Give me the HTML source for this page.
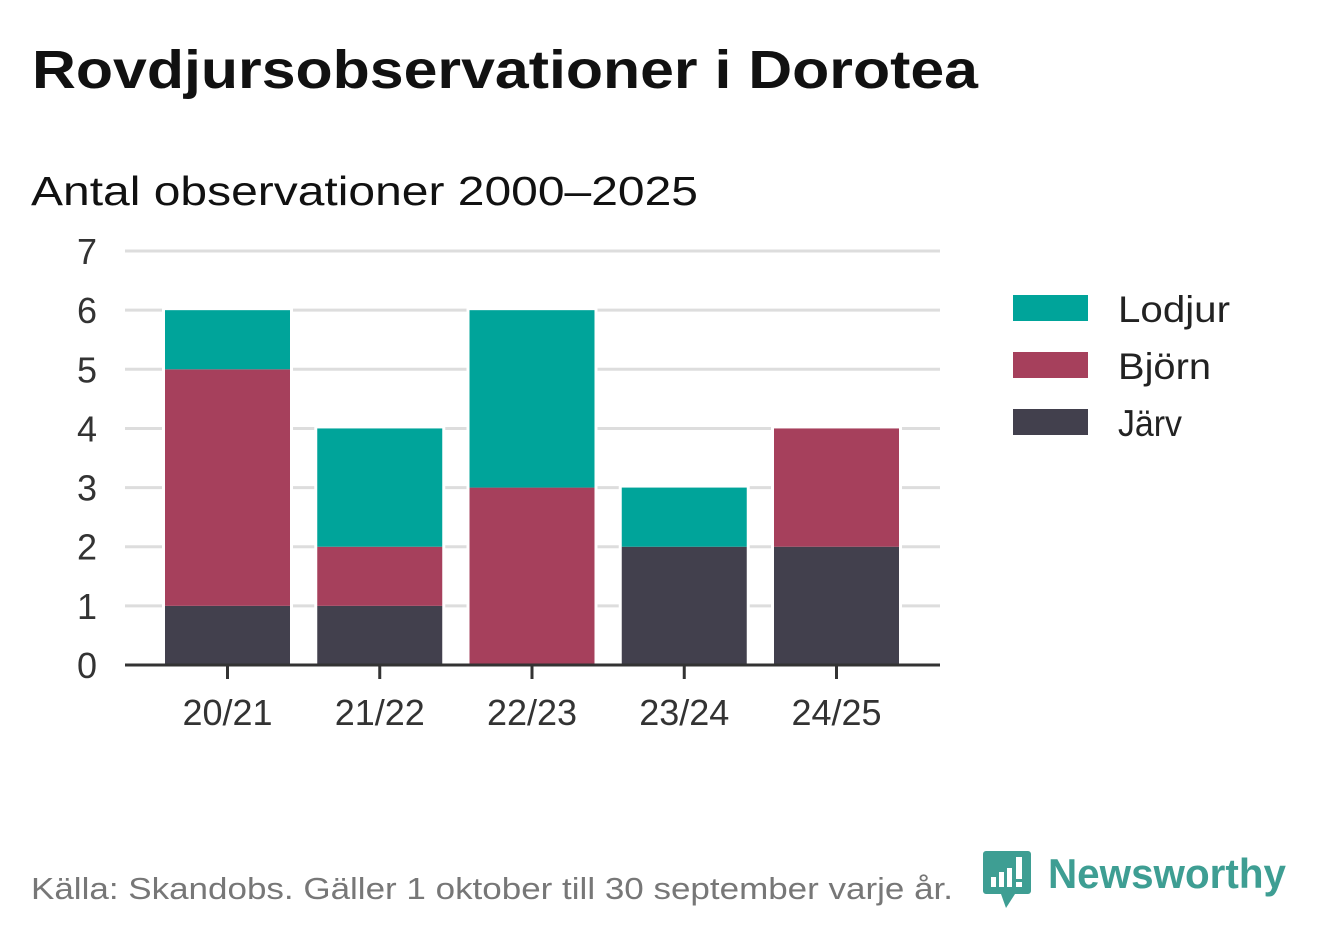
<!DOCTYPE html>
<html><head><meta charset="utf-8"><style>
body{margin:0;background:#fff;}
svg text{font-family:"Liberation Sans",sans-serif;}
</style></head><body>
<svg id="chart" width="1322" height="939" viewBox="0 0 1322 939" xmlns="http://www.w3.org/2000/svg">
<text x="32" y="88" font-size="54" font-weight="bold" fill="#111" textLength="946" lengthAdjust="spacingAndGlyphs">Rovdjursobservationer i Dorotea</text>
<text x="31" y="205" font-size="41" fill="#111" textLength="667" lengthAdjust="spacingAndGlyphs">Antal observationer 2000–2025</text>
<g id="grid"></g><g id="bars"></g><g id="axis"></g>
<g>
<rect x="1013" y="295" width="75" height="26" fill="#00a49a"/>
<text x="1118" y="322" font-size="37" fill="#222" textLength="112" lengthAdjust="spacingAndGlyphs">Lodjur</text>
<rect x="1013" y="352" width="75" height="26" fill="#a6405c"/>
<text x="1118" y="379" font-size="37" fill="#222" textLength="93" lengthAdjust="spacingAndGlyphs">Björn</text>
<rect x="1013" y="409" width="75" height="26" fill="#42404d"/>
<text x="1118" y="436" font-size="37" fill="#222" textLength="64" lengthAdjust="spacingAndGlyphs">Järv</text>
</g>
<text x="31" y="899" font-size="31" fill="#777" textLength="922" lengthAdjust="spacingAndGlyphs">Källa: Skandobs. Gäller 1 oktober till 30 september varje år.</text>
<g>
<path d="M986 851 h42 a3 3 0 0 1 3 3 v37 a3 3 0 0 1 -3 3 h-13 l-9 14 l-5 -14 h-15 a3 3 0 0 1 -3 -3 v-37 a3 3 0 0 1 3 -3z" fill="#3e9e93"/>
<rect x="991" y="877" width="5" height="10" fill="#fff"/><rect x="999" y="872" width="5" height="15" fill="#fff"/><rect x="1007" y="868" width="5" height="19" fill="#fff"/><rect x="1016" y="857" width="6" height="22" fill="#fff"/><rect x="1016" y="882" width="6" height="5" fill="#fff"/>
<text x="1048" y="888" font-size="42" font-weight="bold" fill="#3e9e93" textLength="238" lengthAdjust="spacingAndGlyphs">Newsworthy</text>
</g>
</svg>
<script>
const categories=["20/21","21/22","22/23","23/24","24/25"];
const jarv=[1,1,0,2,2];
const bjorn=[4,1,3,0,2];
const lodjur=[1,2,3,1,0];
const yTicks=[0,1,2,3,4,5,6,7];
const NS="http://www.w3.org/2000/svg";
const y0=665,unit=59.14,x0=125,x1=940;
const y=v=>y0-v*unit;
const xc=i=>227.5+i*152.25;
const bw=125;
function mk(tag,attrs,parent,txt){const e=document.createElementNS(NS,tag);for(const k in attrs)e.setAttribute(k,attrs[k]);if(txt!==undefined)e.textContent=txt;parent.appendChild(e);return e;}
const grid=document.getElementById('grid'),bars=document.getElementById('bars'),axis=document.getElementById('axis');
yTicks.forEach(t=>{
 if(t>0){const l=mk('line',{x1:x0,x2:x1,y1:y(t),y2:y(t),stroke:'#ddd','stroke-width':3},grid);
 
 }
 const tx=mk('text',{x:97,y:y(t)+13,'font-size':36,fill:'#333','text-anchor':'end'},axis,String(t));
 
 
});
const series=[["jarv",jarv,"#42404d"],["bjorn",bjorn,"#a6405c"],["lodjur",lodjur,"#00a49a"]];
categories.forEach((c,i)=>{
 let total=jarv[i]+bjorn[i]+lodjur[i];
 const bg=mk('rect',{x:xc(i)-bw/2-3,y:y(total)-3,width:bw+6,height:total*unit+3,fill:'#fff'},bars);
 
 
 let base=0;
 series.forEach(([n,arr,col])=>{
  const v=arr[i];
  if(v>0){const r=mk('rect',{x:xc(i)-bw/2,y:y(base+v),width:bw,height:v*unit,fill:col},bars);
  
  }
  base+=v;
 });
 const tk=mk('line',{x1:xc(i),x2:xc(i),y1:y0,y2:y0+14,stroke:'#333','stroke-width':3},axis);
 
 
 const lb=mk('text',{x:xc(i),y:725,'font-size':36,fill:'#333','text-anchor':'middle'},axis,c);
 
 
});
const ax=mk('line',{x1:x0,x2:x1,y1:y0,y2:y0,stroke:'#333','stroke-width':3},axis);


</script>
</body></html>
